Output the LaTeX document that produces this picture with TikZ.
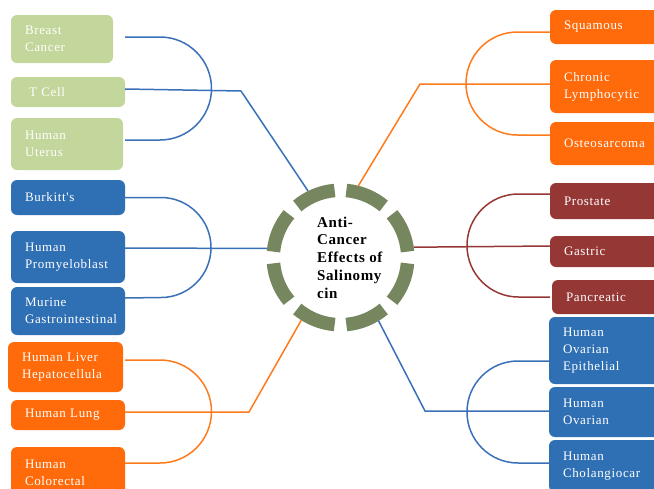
\documentclass[tikz,border=0pt]{standalone}
\usepackage{fontspec}
\setmainfont{Liberation Serif}
\newfontfamily\leaffont[LetterSpace=5]{Liberation Serif}
\newfontfamily\hubfont[LetterSpace=4]{Liberation Serif}
\usepackage{tikz}
\usetikzlibrary{calc}
\definecolor{leafgreen}{HTML}{C3D69B}
\definecolor{leafblue}{HTML}{2F6FB4}
\definecolor{leaforange}{HTML}{FF6A0A}
\definecolor{leafred}{HTML}{953735}
\definecolor{ringgreen}{HTML}{76875F}
\definecolor{lnblue}{HTML}{3A70B8}
\definecolor{lnorange}{HTML}{FF7A1A}
\tikzset{leaf/.style={rounded corners=6, inner xsep=14pt, inner ysep=0pt, outer sep=0pt, anchor=west, align=left, text=white, font=\leaffont\fontsize{13}{17}\selectfont}}
\tikzset{gleaf/.style={leaf, fill=leafgreen}}
\tikzset{bleaf/.style={leaf, fill=leafblue}}
\tikzset{oleaf/.style={leaf, fill=leaforange}}
\tikzset{rleaf/.style={leaf, fill=leafred}}
\tikzset{bln/.style={draw=lnblue, line width=1.5pt}}
\tikzset{oln/.style={draw=lnorange, line width=1.5pt}}
\tikzset{rln/.style={draw=leafred, line width=1.5pt}}
\tikzset{ring/.style={draw=ringgreen, line width=13.5pt}}
\tikzset{hubtxt/.style={inner sep=0pt, align=left, font=\hubfont\bfseries\fontsize{15}{17.7}\selectfont}}

\begin{document}
\begin{tikzpicture}[x=1pt, y=-1pt]
    \useasboundingbox (0,0) rectangle (654,488);
    \clip (0,0) rectangle (654,488);
    % left column
    \node[gleaf, text width=74pt, minimum height=48pt] (bc) at (11,39) {Breast\\Cancer};
    \node[gleaf, text width=86pt, minimum height=30pt] (tc) at (11,92) {\hspace*{4pt}T Cell};
    \node[gleaf, text width=84pt, minimum height=52pt] (hu) at (11,144) {Human\\Uterus};
    \node[bleaf, text width=86pt, minimum height=35pt] (bk) at (11,197.5) {Burkitt's};
    \node[bleaf, text width=86pt, minimum height=52pt] (hp) at (11,257) {Human\\Promyeloblast};
    \node[bleaf, text width=86pt, minimum height=48pt] (mg) at (11,311) {Murine\\Gastrointestinal};
    \node[oleaf, text width=87pt, minimum height=50pt] (lv) at (8,367) {Human Liver\\Hepatocellula};
    \node[oleaf, text width=86pt, minimum height=30pt] (lu) at (11,415) {Human Lung};
    \node[oleaf, text width=86pt, minimum height=52pt] (cr) at (11,473) {Human\\Colorectal};
    % right column
    \node[oleaf, text width=92pt, minimum height=34pt] (sq) at (550,27) {Squamous};
    \node[oleaf, text width=92pt, minimum height=53pt] (cl) at (550,86.5) {Chronic\\Lymphocytic};
    \node[oleaf, text width=92pt, minimum height=43pt] (os) at (550,143.5) {Osteosarcoma};
    \node[rleaf, text width=92pt, minimum height=36pt] (pr) at (550,201) {Prostate};
    \node[rleaf, text width=92pt, minimum height=31pt] (ga) at (550,251.5) {Gastric};
    \node[rleaf, text width=92pt, minimum height=34pt] (pa) at (552,297) {Pancreatic};
    \node[bleaf, text width=92pt, minimum height=67pt] (oe) at (549,350.5) {Human\\Ovarian\\Epithelial};
    \node[bleaf, text width=92pt, minimum height=50pt] (ov) at (549,412) {Human\\Ovarian};
    \node[bleaf, text width=92pt, minimum height=52pt] (ch) at (549,466) {Human\\Cholangiocar};
    % centre
    \node[circle, minimum size=148pt, inner sep=0pt, outer sep=0pt] (hub) at (340.5,257.5) {};
    \foreach \a [evaluate=\a as \b using \a+5] in {0,45,...,315}
        \draw[ring] ($(hub.center)+(\b:67.25pt)$) arc[start angle=\b, delta angle=35, radius=67.25pt];
    % brackets, left
    \draw[bln] ([yshift=2]bc.east -| tc.east) -- ++(35,0) arc[start angle=90, end angle=-90, radius=51.5pt] -- ([yshift=4]hu.east -| tc.east);
    \draw[bln] ([yshift=3]tc.east) -- ++(116,2) -- (hub.116);
    \draw[bln] (bk.east) -- ++(36,0) arc[start angle=90, end angle=-90, radius=50pt] -- ([yshift=13]mg.east);
    \draw[bln] ([yshift=9]hp.east) -- (hub.173);
    \draw[oln] ([yshift=7]lv.east -| lu.east) -- ++(35,0) arc[start angle=90, end angle=-90, radius=51.5pt] -- ([yshift=10]cr.east);
    \draw[oln] ([yshift=3]lu.east) -- ++(124,0) -- (hub.238);
    % brackets, right
    \draw[oln] ([yshift=-5]sq.west) -- ++(-32.5,0) arc[start angle=90, end angle=270, radius=51.5pt] -- ([yshift=8.5]os.west);
    \draw[oln] ([yshift=2.5]cl.west) -- ++(-130,0) -- (hub.76);
    \draw[rln] ([yshift=7]pr.west) -- ++(-31.5,0) arc[start angle=90, end angle=270, radius=51.5pt] -- (pa.west -| pr.west);
    \draw[rln] ([yshift=5.5]ga.west) -- (hub.8);
    \draw[bln] ([yshift=-10.5]oe.west) -- ++(-31,0) arc[start angle=90, end angle=270, radius=51pt] -- ([yshift=3]ch.west);
    \draw[bln] ([yshift=1]ov.west) -- ++(-124,0) -- (hub.301);
    \node[hubtxt, anchor=west] (title) at ([xshift=-23.5]hub.center) {Anti-\\Cancer\\Effects of\\Salinomy\\cin};
\end{tikzpicture}
\end{document}
